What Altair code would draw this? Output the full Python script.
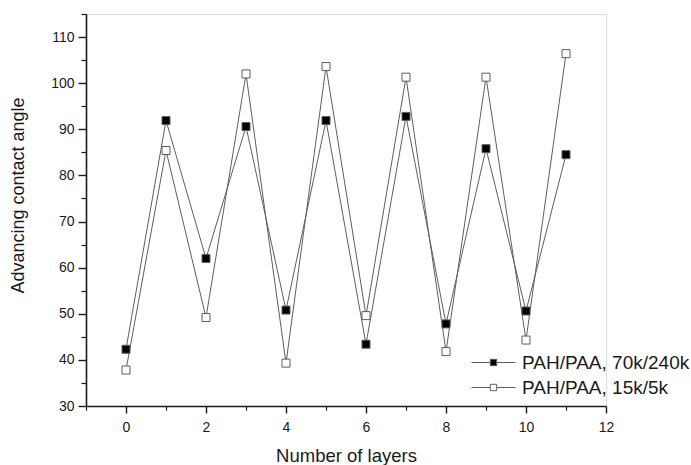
import altair as alt
import pandas as pd

# Contact angle after each deposited layer, two polyelectrolyte pairs
layers = list(range(12))
angle_70k_240k = [42.3, 91.9, 62.0, 90.6, 50.8, 91.9, 43.4, 92.8, 47.8, 85.8, 50.6, 84.5]
angle_15k_5k = [37.8, 85.4, 49.2, 102.0, 39.3, 103.6, 49.6, 101.3, 41.8, 101.3, 44.3, 106.4]
series_names = ["PAH/PAA, 70k/240k", "PAH/PAA, 15k/5k"]

x_major = [0, 2, 4, 6, 8, 10, 12]
x_minor = [-1, 1, 3, 5, 7, 9, 11]
y_major = [30, 40, 50, 60, 70, 80, 90, 100, 110]
y_minor = [35, 45, 55, 65, 75, 85, 95, 105, 115]

df = pd.concat([
    pd.DataFrame({"layer": layers, "angle": angle_70k_240k, "series": series_names[0]}),
    pd.DataFrame({"layer": layers, "angle": angle_15k_5k, "series": series_names[1]}),
])

FONT = "Liberation Sans"
INK = "#1a1a1a"
LINE = "#5e5e5e"

x_scale = alt.Scale(domain=[-1, 12], nice=False, zero=False)
y_scale = alt.Scale(domain=[30, 115], nice=False, zero=False)

# Lines carry the minor-tick axes
lines = alt.Chart(df).mark_line(color=LINE, strokeWidth=1).encode(
    x=alt.X("layer:Q", scale=x_scale,
            axis=alt.Axis(orient="bottom", values=x_minor, labels=False, title=None,
                          domain=False, tickSize=4, tickColor=INK, tickWidth=1.2, grid=False)),
    y=alt.Y("angle:Q", scale=y_scale,
            axis=alt.Axis(orient="left", values=y_minor, labels=False, title=None,
                          domain=False, tickSize=5, tickColor=INK, tickWidth=1.2, grid=False)),
    detail="series:N",
)

# Markers carry the labelled axes and the legend
legend_symbol = "M-2.75,0H-0.45M0.45,0H2.75M-0.4,-0.4H0.4V0.4H-0.4Z"
points = alt.Chart(df).mark_point(shape="square", size=64, filled=True, stroke=LINE,
                                  strokeWidth=1, opacity=1).encode(
    x=alt.X("layer:Q", scale=x_scale,
            axis=alt.Axis(orient="bottom", values=x_major, title="Number of layers",
                          domainColor=INK, domainWidth=1.6, tickColor=INK, tickWidth=1.4,
                          tickSize=7, labelPadding=7, labelFontSize=14, labelColor=INK,
                          labelFont=FONT, titleFont=FONT, titleFontSize=18.5,
                          titleFontWeight="normal", titleColor=INK, titlePadding=12,
                          grid=False, labelFlush=False)),
    y=alt.Y("angle:Q", scale=y_scale,
            axis=alt.Axis(orient="left", values=y_major, title="Advancing contact angle",
                          domainColor=INK, domainWidth=1.6, tickColor=INK, tickWidth=1.4,
                          tickSize=8, labelPadding=4, labelFontSize=14, labelColor=INK,
                          labelFont=FONT, titleFont=FONT, titleFontSize=18,
                          titleFontWeight="normal", titleColor=INK,
                          titleX=-59, titleY=181, titleBaseline="bottom",
                          grid=False, labelFlush=False)),
    fill=alt.Fill("series:N",
                  scale=alt.Scale(domain=series_names, range=["#000000", "#ffffff"]),
                  legend=alt.Legend(title=None, orient="none", legendX=398, legendY=339,
                                    symbolType=legend_symbol, symbolSize=256,
                                    symbolStrokeColor=LINE, symbolStrokeWidth=1,
                                    labelFont=FONT, labelFontSize=19, labelColor=INK,
                                    labelOffset=19, labelLimit=0, rowPadding=5, padding=0)),
)

chart = alt.layer(lines, points).resolve_axis(x="independent", y="independent").properties(
    width=520,
    height=392,
    autosize="none",
    padding={"left": 86, "top": 14, "right": 85, "bottom": 59},
).configure_view(stroke=None).configure(background="white")

chart.save("out.html", embed_options={"renderer": "svg", "actions": False})
